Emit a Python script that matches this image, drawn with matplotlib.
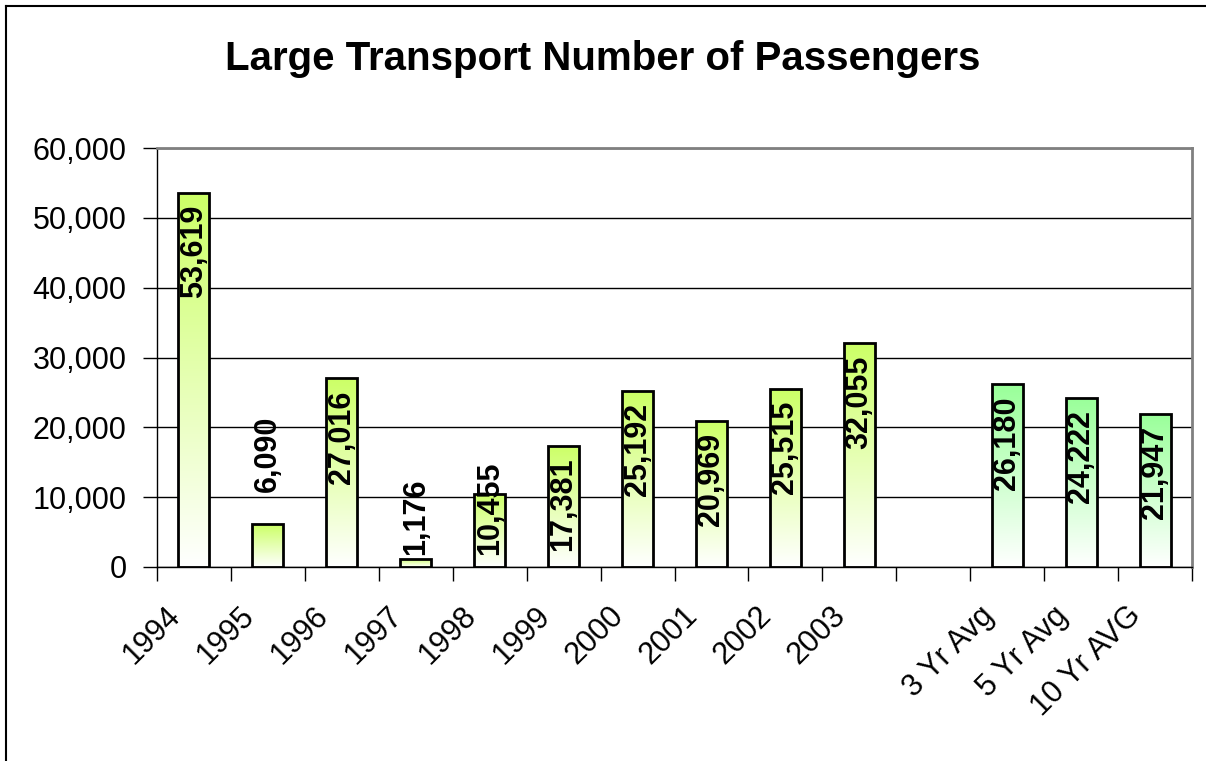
import matplotlib
matplotlib.use('Agg')
import matplotlib.pyplot as plt
import numpy as np
from matplotlib.ticker import FuncFormatter
from matplotlib.transforms import ScaledTranslation, offset_copy
from matplotlib.colors import LinearSegmentedColormap
from matplotlib.lines import Line2D

categories = ['1994', '1995', '1996', '1997', '1998', '1999', '2000', '2001',
              '2002', '2003', '', '3 Yr Avg', '5 Yr Avg', '10 Yr AVG']
values = [53619, 6090, 27016, 1176, 10455, 17381, 25192, 20969, 25515, 32055,
          None, 26180, 24222, 21947]
label_modes = ['in', 'out', 'in', 'base', 'base', 'in', 'in', 'in', 'in', 'in',
               None, 'in', 'in', 'in']
top_colors = ['#CCFF66'] * 10 + [None] + ['#99FF99'] * 3
yticks = [0, 10000, 20000, 30000, 40000, 50000, 60000]
title = 'Large Transport Number of Passengers'

plt.rcParams['font.family'] = ['Liberation Sans', 'DejaVu Sans']

W, H = 1206, 761
fig = plt.figure(figsize=(W / 100, H / 100), dpi=100)
ax = fig.add_axes([157 / W, 1 - 567 / H, 1035 / W, 419 / H])

x = np.arange(len(categories))
idx = [i for i, v in enumerate(values) if v is not None]
bars = ax.bar([x[i] for i in idx], [values[i] for i in idx], width=0.42,
              facecolor='none', edgecolor='black', linewidth=2.0, zorder=3)

grad = np.linspace(0, 1, 256).reshape(-1, 1)
for b, i in zip(bars, idx):
    cmap = LinearSegmentedColormap.from_list('g%d' % i, ['#FFFFFF', top_colors[i]])
    im = ax.imshow(grad, cmap=cmap, origin='lower', aspect='auto',
                   extent=[b.get_x(), b.get_x() + b.get_width(), 0, b.get_height()],
                   zorder=2, interpolation='bilinear')
    im.set_clip_path(b)

ax.set_xlim(-0.5, len(categories) - 0.5)
ax.set_ylim(yticks[0], yticks[-1])
ax.set_aspect('auto')

# data labels
for b, i in zip(bars, idx):
    v = values[i]
    cx = b.get_x() + b.get_width() / 2
    mode = label_modes[i]
    if mode == 'in':
        tr = offset_copy(ax.transData, fig=fig, x=0, y=-12, units='dots')
        yy, va = v, 'top'
    elif mode == 'out':
        tr = offset_copy(ax.transData, fig=fig, x=0, y=32, units='dots')
        yy, va = v, 'bottom'
    else:
        tr = offset_copy(ax.transData, fig=fig, x=0, y=12, units='dots')
        yy, va = 0, 'bottom'
    ax.text(cx, yy, f'{v:,}', rotation=90, ha='center', va=va, transform=tr,
            fontsize=22, fontweight='bold', color='black', zorder=5)

# y axis
ax.set_yticks(yticks)
ax.yaxis.set_major_formatter(FuncFormatter(lambda v, p: f'{int(v):,}'))
ax.tick_params(axis='y', length=10, width=1, pad=12, labelsize=22, direction='out')
ax.yaxis.grid(True, color='black', linewidth=1)
ax.set_axisbelow(True)

# x axis
ax.set_xticks(x)
ax.set_xticklabels(categories, rotation=45, ha='right', va='center',
                   rotation_mode='anchor', fontsize=22)
ax.set_xticks(np.arange(-0.5, len(categories), 1), minor=True)
ax.tick_params(axis='x', which='major', length=0, pad=32)
ax.tick_params(axis='x', which='minor', length=10, width=1, direction='out')
shift = ScaledTranslation(-18 / 100, 0, fig.dpi_scale_trans)
for lbl in ax.get_xticklabels():
    lbl.set_transform(lbl.get_transform() + shift)

for s in ['top', 'right']:
    ax.spines[s].set_color('#808080')
    ax.spines[s].set_linewidth(2)
for s in ['left', 'bottom']:
    ax.spines[s].set_color('black')
    ax.spines[s].set_linewidth(1)

fig.text(0.5, 1 - 70 / H, title, ha='center', va='baseline',
         fontsize=29, fontweight='bold')

# chart-area border (left and top visible)
fig.add_artist(Line2D([6 / W, 6 / W], [0, 1 - 6 / H], transform=fig.transFigure,
                      color='black', linewidth=1.5))
fig.add_artist(Line2D([6 / W, 1], [1 - 6 / H, 1 - 6 / H], transform=fig.transFigure,
                      color='black', linewidth=1.5))

fig.savefig('out.png', dpi=100)
